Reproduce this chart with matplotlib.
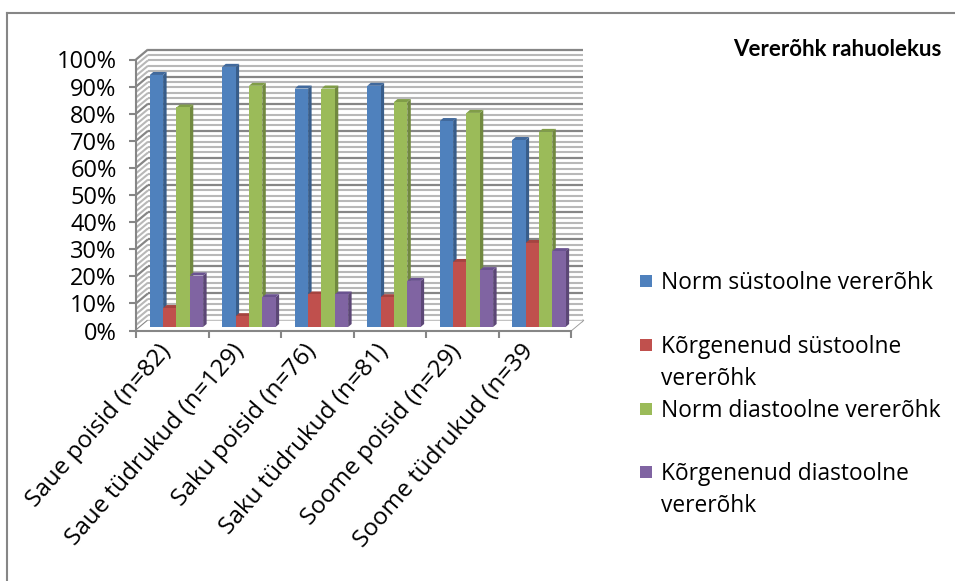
import matplotlib.pyplot as plt
from matplotlib.patches import Polygon
from matplotlib.lines import Line2D
import matplotlib.transforms as mtransforms

plt.rcParams['font.family'] = ['Open Sans', 'DejaVu Sans']

groups = ['Saue poisid (n=82)', 'Saue tüdrukud (n=129)', 'Saku poisid (n=76)',
          'Saku tüdrukud (n=81)', 'Soome poisid (n=29)', 'Soome tüdrukud (n=39']
norm_sys = [93, 96, 88, 89, 76, 69]
high_sys = [7, 4, 12, 11, 24, 31]
norm_dia = [81, 89, 88, 83, 79, 72]
high_dia = [19, 11, 12, 17, 21, 28]
series = [norm_sys, high_sys, norm_dia, high_dia]
series_names = ['Norm süstoolne vererõhk', 'Kõrgenenud süstoolne\nvererõhk',
                'Norm diastoolne vererõhk', 'Kõrgenenud diastoolne\nvererõhk']

front_colors = ['#4F81BD', '#C0504D', '#9BBB59', '#8064A2']
side_colors = ['#385D8A', '#8C3A37', '#71893F', '#5C4776']
top_colors = ['#41699C', '#A54440', '#809D48', '#6A5290']

W, H = 955, 581
fig = plt.figure(figsize=(W / 100, H / 100), dpi=100)
fig.patch.set_facecolor('white')

# front plane of the plot: x axis at y=330, 100% at y=59
x_left, x_right, y_zero, y_top = 136, 571, 330.5, 59.5
ax = fig.add_axes([x_left / W, 1 - y_zero / H, (x_right - x_left) / W, (y_zero - y_top) / H])
n = len(groups)
ax.set_xlim(-0.5, n - 0.5)
ax.set_ylim(0, 1)
ax.patch.set_visible(False)

PX = n / (x_right - x_left)   # data units per pixel
PY = 1 / (y_zero - y_top)
DX, DY = 12 * PX, 10 * PY      # depth of the 3d box

# back wall, side wall and floor with gridlines every 2 %
ax.add_patch(Polygon([(-0.5 + DX, DY), (n - 0.5 + DX, DY), (n - 0.5 + DX, 1 + DY), (-0.5 + DX, 1 + DY)],
                     closed=True, facecolor='white', edgecolor='none', clip_on=False, zorder=0))
for k in range(51):
    y = k * 0.02
    major = k % 5 == 0
    col = '#868686' if major else '#b8b8b8'
    lw = 1.6 if major else 1.5
    ax.plot([-0.5 + DX, n - 0.5 + DX], [y + DY, y + DY], color=col, lw=lw, clip_on=False, zorder=1,
            solid_capstyle='butt')
    ax.plot([-0.5, -0.5 + DX], [y, y + DY], color=col, lw=lw, clip_on=False, zorder=1,
            solid_capstyle='butt')
ax.plot([n - 0.5, n - 0.5 + DX], [0, DY], color='#9a9a9a', lw=1.3, clip_on=False, zorder=1)
ax.add_patch(Polygon([(-0.5, 0), (n - 0.5, 0), (n - 0.5 + DX, DY), (-0.5 + DX, DY)],
                     closed=True, facecolor='white', edgecolor='none', clip_on=False, zorder=1.5))

# bars with a little 3d depth
bw = 0.184
d0 = 0.35
bx, by = 3.5 * PX, 3 * PY
z = 2
for g in range(n):
    for i, vals in enumerate(series):
        v = vals[g] / 100
        x0 = g - 2 * bw + i * bw + d0 * DX
        x1 = x0 + bw
        b = d0 * DY
        ax.add_patch(Polygon([(x1, b), (x1, b + v), (x1 + bx, b + v + by), (x1 + bx, b + by)],
                             closed=True, facecolor=side_colors[i], edgecolor='none', zorder=z))
        ax.add_patch(Polygon([(x0, b + v), (x1, b + v), (x1 + bx, b + v + by), (x0 + bx, b + v + by)],
                             closed=True, facecolor=top_colors[i], edgecolor='none', zorder=z))
        ax.bar(x0, v, width=bw, bottom=b, align='edge', color=front_colors[i], linewidth=0, zorder=z + 0.5)
        z += 1

# axes
for s in ['top', 'right']:
    ax.spines[s].set_visible(False)
for s in ['left', 'bottom']:
    ax.spines[s].set_color('#868686')
    ax.spines[s].set_linewidth(1.5)
    ax.spines[s].set_zorder(100)

ax.set_yticks([k / 10 for k in range(11)])
ax.set_yticklabels([f'{k * 10}%' for k in range(11)], fontsize=17)
ax.tick_params(axis='y', length=5, width=1.5, color='#868686', pad=9)

ax.set_xticks([g - 0.5 for g in range(n + 1)])
ax.set_xticklabels([''] * (n + 1))
ax.tick_params(axis='x', length=5, width=1.5, color='#868686')
offset = mtransforms.ScaledTranslation(-5 / 100, -17 / 100, fig.dpi_scale_trans)
for g, name in enumerate(groups):
    ax.text(g, 0, name, rotation=49, rotation_mode='anchor', ha='right', va='center',
            fontsize=17.5, transform=ax.transData + offset, clip_on=False)

# title and legend
fig.text(837 / W, 1 - 50 / H, 'Vererõhk rahuolekus', fontsize=16, fontweight='bold',
         family=['Lato', 'DejaVu Sans'], ha='center', va='center')
legend_y = [281, 345, 409, 472]
for i, name in enumerate(series_names):
    y = legend_y[i]
    fig.patches.append(plt.Rectangle((640 / W, 1 - (y + 6) / H), 12 / W, 12 / H,
                                     facecolor=front_colors[i], edgecolor='none',
                                     transform=fig.transFigure, figure=fig))
    fig.text(661 / W, 1 - (y - 10) / H, name, fontsize=16.4, ha='left', va='top', linespacing=1.42)

# outer frame
fig.add_artist(Line2D([7 / W, 7 / W], [0, 1 - 13 / H], color='#868686', lw=1.5, transform=fig.transFigure))
fig.add_artist(Line2D([7 / W, 954 / W], [1 - 13 / H, 1 - 13 / H], color='#868686', lw=1.5,
                      transform=fig.transFigure))

fig.savefig('out.png', dpi=100)
